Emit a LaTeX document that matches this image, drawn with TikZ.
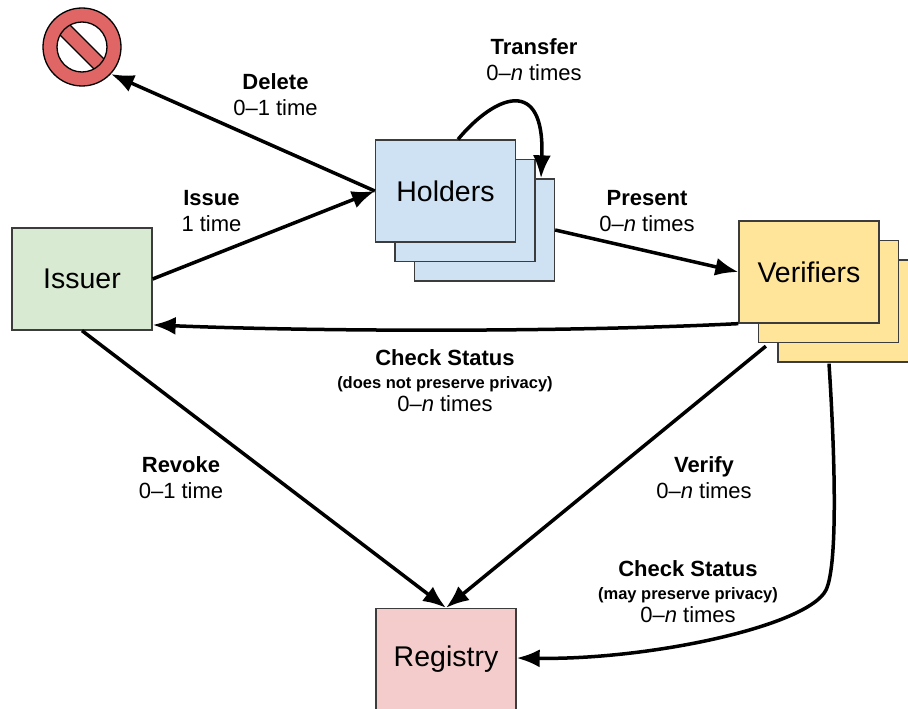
\documentclass[tikz,border=0pt]{standalone}
\usepackage{xcolor}
\usepackage{fontspec}
\setmainfont{Liberation Sans}
\usepackage{tikz}
\usetikzlibrary{calc}
\usetikzlibrary{arrows.meta}
\usetikzlibrary{positioning}

\definecolor{issuergreen}{HTML}{D9EAD3}
\definecolor{holderblue}{HTML}{CFE2F3}
\definecolor{verifieryellow}{HTML}{FFE599}
\definecolor{registrypink}{HTML}{F4CCCC}
\definecolor{stopred}{HTML}{E06666}
\definecolor{boxline}{HTML}{3C3C3C}
\newcommand{\notefont}{\fontsize{16.5}{19}\selectfont\bfseries}

\begin{document}
\begin{tikzpicture}[x=1pt, y=-1pt,
  box/.style={rectangle, draw=boxline, line width=1.3pt, minimum width=140pt, minimum height=102pt, inner sep=0pt, font=\fontsize{28.5}{30}\selectfont},
  conn/.style={line width=3.5pt, -{Latex[length=23pt,width=18pt]}},
  lbl/.style={align=center, font=\fontsize{22}{26}\selectfont}]
\useasboundingbox (0,0) rectangle (908,709);
\clip (0,0) rectangle (908,709);

% delete sign
\node [circle, draw=black, line width=1.3pt, fill=stopred, minimum size=78pt, inner sep=0pt] (D) at (82,47) {};
\fill [white] (D.center) circle (25pt);
\begin{scope}
\clip (D.center) circle (25pt);
\draw [fill=stopred, line width=1.3pt] (57,12) -- (117,72) -- (107,82) -- (47,22) -- cycle;
\end{scope}
\draw [line width=1.3pt] (D.center) circle (25pt);

% parties
\node [box, fill=issuergreen] (I) at (82,279) {Issuer};
\node [box, fill=holderblue] (H3) at (484.5,230) {};
\node [box, fill=holderblue] (H2) at (465,210.5) {};
\node [box, fill=holderblue] (H) at (445.5,191) {Holders};
\node [box, fill=verifieryellow] (V3) at (848,311) {};
\node [box, fill=verifieryellow] (V2) at (828.5,291.5) {};
\node [box, fill=verifieryellow] (V) at (809,272) {Verifiers};
\node [box, fill=registrypink] (R) at (446,659.5) {Registry};

% flows
\draw [conn] (I.east) to (H.west);
\draw [conn] (H.west) to (D.-43);
\draw [conn] ($(H.north)+(12.5,0)$) .. controls (495,95) and (545,75) .. ($(H3.north)+(56.5,0)$);
\draw [conn] (H3.east) to (V.west);
\draw [conn] (V.south west) .. controls (550,333) and (300,331) .. (I.-33);
\draw [conn] (I.south) to (R.north);
\draw [conn] ($(V2.south west)+(8,3)$) to (R.north);
\draw [conn] ($(V3.south)+(-19,1)$) .. controls (834,440) and (839,563) .. (826,590) .. controls (808,626) and (650,660) .. ($(R.east)+(0,-1.5)$);

% labels
\node [lbl] (Ldelete) at (275.5,95) {\textbf{Delete}\\0–1 time};
\node [lbl] (Lissue) at (211.5,211) {\textbf{Issue}\\1 time};
\node [lbl] (Ltransfer) at (534,60) {\textbf{Transfer}\\0–\textit{n} times};
\node [lbl] (Lpresent) at (647,211) {\textbf{Present}\\0–\textit{n} times};
\node [lbl] (Lcheck) at (445,381) {\textbf{Check Status}\\[-3pt]{\notefont (does not preserve privacy)}\\[-3pt]0–\textit{n} times};
\node [lbl] (Lrevoke) at (181,478) {\textbf{Revoke}\\0–1 time};
\node [lbl] (Lverify) at (704,478) {\textbf{Verify}\\0–\textit{n} times};
\node [lbl] (Lcheckreg) at (688,592) {\textbf{Check Status}\\[-3pt]{\notefont (may preserve privacy)}\\[-3pt]0–\textit{n} times};
\end{tikzpicture}
\end{document}
